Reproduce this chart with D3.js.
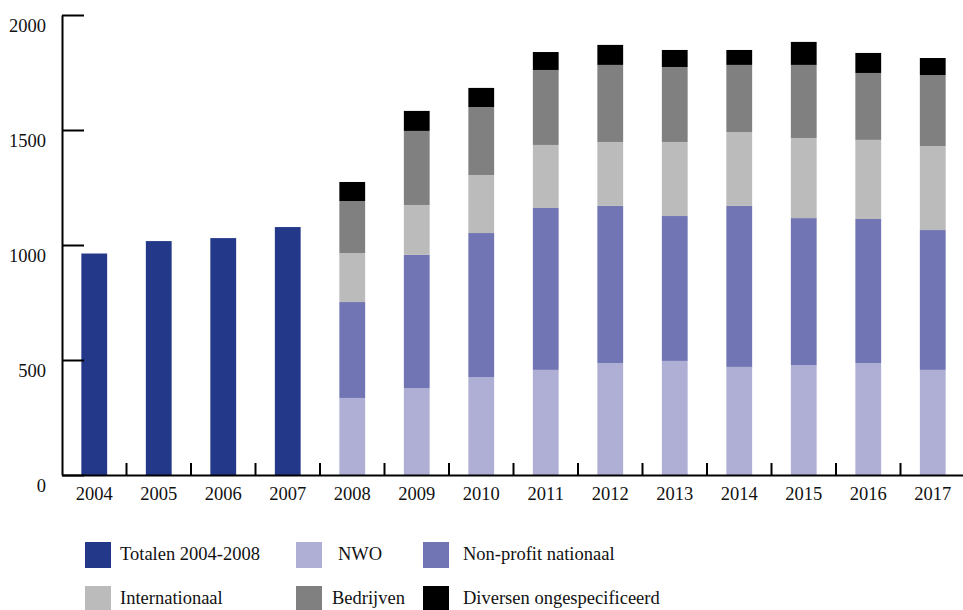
<!DOCTYPE html>
<html>
<head>
<meta charset="utf-8">
<script src="https://cdn.jsdelivr.net/npm/d3@7"></script>
<style>
  html, body { margin: 0; padding: 0; background: #fff; }
  svg { display: block; font-family: "Liberation Serif", "DejaVu Serif", serif; }
</style>
</head>
<body>
<svg id="chart" width="963" height="610"></svg>
<script>
// ---- Data ----
const years = ["2004","2005","2006","2007","2008","2009","2010","2011","2012","2013","2014","2015","2016","2017"];
const totalen        = [963, 1017, 1030, 1078, 0, 0, 0, 0, 0, 0, 0, 0, 0, 0];
const nwo            = [0, 0, 0, 0, 335, 378, 426, 457, 487, 496, 470, 478, 487, 457];
const nonprofit      = [0, 0, 0, 0, 417, 579, 626, 704, 683, 630, 700, 639, 626, 608];
const internationaal = [0, 0, 0, 0, 213, 217, 252, 274, 278, 322, 321, 348, 344, 365];
const bedrijven      = [0, 0, 0, 0, 226, 322, 296, 326, 335, 326, 292, 318, 291, 309];
const diversen       = [0, 0, 0, 0, 83, 87, 83, 78, 87, 74, 65, 100, 87, 74];
const yTicks = [0, 500, 1000, 1500, 2000];

const seriesNames = ["Totalen 2004-2008", "NWO", "Non-profit nationaal", "Internationaal", "Bedrijven", "Diversen ongespecificeerd"];
const seriesKeys = ["totalen", "nwo", "nonprofit", "internationaal", "bedrijven", "diversen"];
const seriesColors = ["#233889", "#afafd6", "#7175b4", "#bbbbbb", "#808080", "#000000"];

// table built from arrays
const table = years.map((y, i) => ({
  year: y, totalen: totalen[i], nwo: nwo[i], nonprofit: nonprofit[i],
  internationaal: internationaal[i], bedrijven: bedrijven[i], diversen: diversen[i]
}));

const svg = d3.select("#chart");
const x0 = 62, x1 = 965, yTop = 15, yBot = 475;

const x = d3.scaleBand().domain(years).range([x0, x1]).paddingInner(0.6).paddingOuter(0.3);
const y = d3.scaleLinear().domain([0, 2000]).range([yBot, yTop]);
const color = d3.scaleOrdinal().domain(seriesKeys).range(seriesColors);

// stacked bars
const stack = d3.stack().keys(seriesKeys);
const stacked = stack(table);
svg.append("g").selectAll("g")
  .data(stacked).join("g")
  .attr("fill", d => color(d.key))
  .selectAll("rect")
  .data(d => d.filter(p => p[1] - p[0] > 0))
  .join("rect")
  .attr("x", d => x(d.data.year))
  .attr("width", x.bandwidth())
  .attr("y", d => y(d[1]))
  .attr("height", d => y(d[0]) - y(d[1]));

// y axis
const yAxis = d3.axisLeft(y).tickValues(yTicks).tickFormat(d3.format("d"))
  .tickSizeInner(-22).tickSizeOuter(0).tickPadding(16);
const gy = svg.append("g").attr("transform", `translate(${x0},0)`).call(yAxis);
gy.select(".domain").attr("stroke", "#000").attr("stroke-width", 2);
gy.selectAll(".tick line").attr("stroke", "#000").attr("stroke-width", 2);
gy.selectAll(".tick text").attr("dy", 16).attr("font-size", 18.5).attr("fill", "#111")
  .attr("font-family", "Liberation Serif, serif");

// x axis
const xAxis = d3.axisBottom(x).tickSize(0).tickPadding(0);
const gx = svg.append("g").attr("transform", `translate(0,${yBot})`).call(xAxis);
gx.select(".domain").attr("stroke", "#000").attr("stroke-width", 2);
gx.selectAll(".tick text").attr("dy", 25).attr("font-size", 18.5).attr("fill", "#111")
  .attr("font-family", "Liberation Serif, serif");
// boundary ticks between categories
const step = x.step();
const bounds = years.map(d => x(d) - step * 0.3).slice(1).concat([x(years[years.length - 1]) + x.bandwidth() + step * 0.3]);
svg.append("g").selectAll("line").data(bounds).join("line")
  .attr("x1", d => d).attr("x2", d => d)
  .attr("y1", yBot - 12).attr("y2", yBot)
  .attr("stroke", "#000").attr("stroke-width", 2);

// legend
const legendPos = [
  { sx: 85, sy: 542, tx: 120 },
  { sx: 296, sy: 542, tx: 338 },
  { sx: 423, sy: 542, tx: 463 },
  { sx: 85, sy: 586, tx: 120 },
  { sx: 296, sy: 586, tx: 332 },
  { sx: 423, sy: 586, tx: 463 }
];
const lg = svg.append("g").selectAll("g").data(seriesKeys).join("g");
lg.append("rect")
  .attr("x", (d, i) => legendPos[i].sx).attr("y", (d, i) => legendPos[i].sy)
  .attr("width", 26).attr("height", 26)
  .attr("fill", d => color(d));
lg.append("text")
  .attr("x", (d, i) => legendPos[i].tx).attr("y", (d, i) => legendPos[i].sy + 18)
  .attr("font-size", 18.5).attr("fill", "#111")
  .text((d, i) => seriesNames[i]);
</script>
</body>
</html>
